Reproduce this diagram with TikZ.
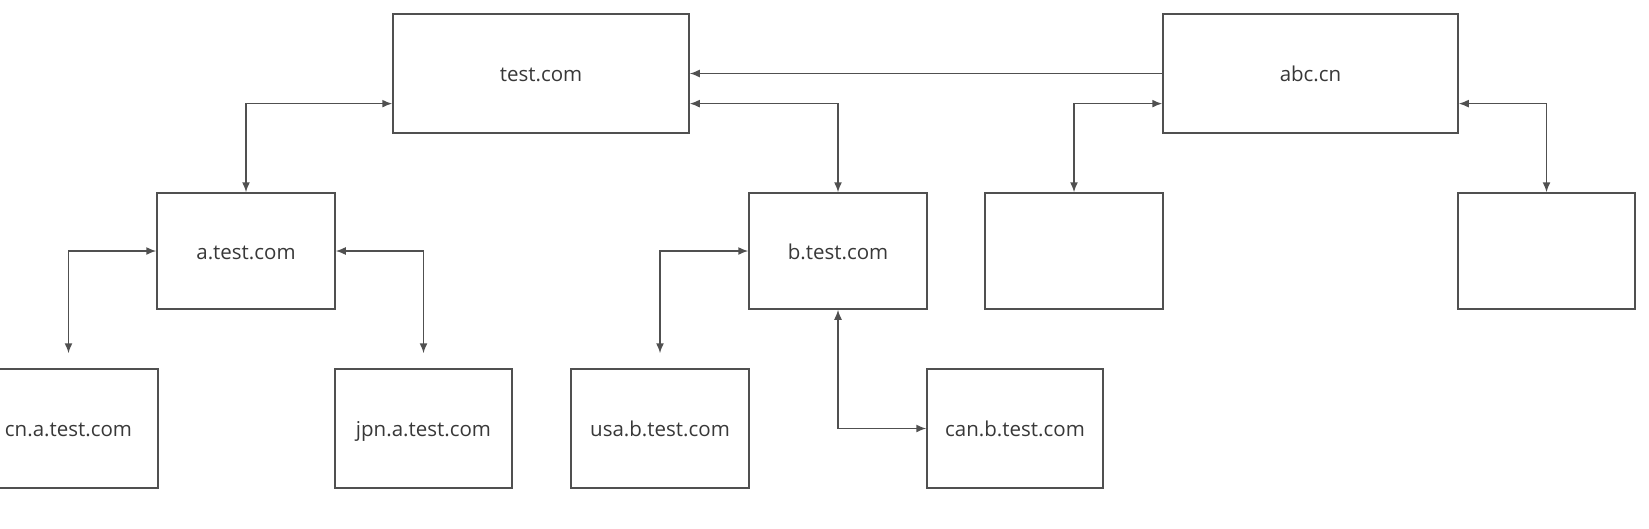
\documentclass[tikz,border=0pt]{standalone}
\usepackage{fontspec}
\setmainfont{Open Sans}
\usetikzlibrary{arrows.meta,calc}
\definecolor{linegray}{HTML}{505050}
\definecolor{textgray}{HTML}{383838}
\begin{document}
\begin{tikzpicture}[x=1pt,y=-1pt,
  box/.style 2 args={draw=linegray,line width=1.5pt,minimum width=#1,minimum height=#2,
    inner sep=0pt,text height=16pt,text depth=0pt,
    font=\fontsize{20.5}{24}\selectfont,text=textgray},
  conn/.style={draw=linegray,line width=1.5pt},
  both/.style={conn,{Latex[length=10pt,width=8pt]}-{Latex[length=10pt,width=8pt]}},
  one/.style={conn,-{Latex[length=10pt,width=8pt]}}]
\useasboundingbox (0,0) rectangle (1649,528);
% top row
\node[box={296pt}{119pt}] (test) at (541,73.5) {test.com};
\node[box={295pt}{119pt}] (abc) at (1310.5,73.5) {abc.cn};
% middle row
\node[box={178pt}{116pt}] (a) at (246,251) {a.test.com};
\node[box={178pt}{116pt}] (b) at (838,251) {b.test.com};
\node[box={178pt}{116pt}] (e1) at (1074,251) {};
\node[box={177pt}{116pt}] (e2) at (1546.5,251) {};
% bottom row
\node[box={179pt}{119pt}] (cn) at (68.5,428.5) {cn.a.test.com};
\node[box={177pt}{119pt}] (jpn) at (423.5,428.5) {jpn.a.test.com};
\node[box={178pt}{119pt}] (usa) at (660,428.5) {usa.b.test.com};
\node[box={176pt}{119pt}] (can) at (1015,428.5) {can.b.test.com};
% connectors
\draw[one] (abc.west) -- (test.east);
\draw[both] ($(test.south west)!0.25!(test.north west)$) -| (a.north);
\draw[both] ($(test.south east)!0.25!(test.north east)$) -| (b.north);
\draw[both] ($(abc.south west)!0.25!(abc.north west)$) -| (e1.north);
\draw[both] ($(abc.south east)!0.25!(abc.north east)$) -| (e2.north);
\draw[both,shorten >=15pt] (a.west) -| (cn.north);
\draw[both,shorten >=15pt] (a.east) -| (jpn.north);
\draw[both,shorten >=15pt] (b.west) -| (usa.north);
\draw[both] (b.south) |- (can.west);
\end{tikzpicture}
\end{document}
